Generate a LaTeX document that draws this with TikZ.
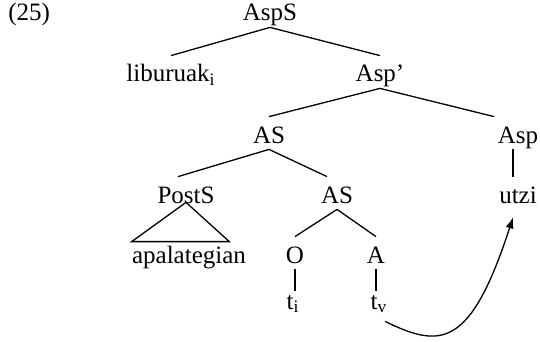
\documentclass[tikz,border=0pt]{standalone}
\usepackage{fontspec}
\setmainfont{Liberation Serif}
\usetikzlibrary{arrows.meta}

\begin{document}
\begin{tikzpicture}[x=0.5pt,y=-0.5pt,
    cat/.style={inner sep=0pt,anchor=base,text height=13pt,text depth=3pt,
      font=\fontsize{12.5}{15}\selectfont},
    branch/.style={line width=0.65pt}]
  \useasboundingbox (0,0) rectangle (540,342);
  % example number
  \node[cat,anchor=base west] (num) at (8,21) {(25)};
  % tree nodes, row by row
  \node[cat] (AspS) at (270,21) {AspS};
  \node[cat] (lib) at (171,82) {liburuak\textsubscript{i}};
  \node[cat] (Aspbar) at (380,82) {Asp'};
  \node[cat] (AS1) at (269,143) {AS};
  \node[cat] (Asp) at (518,143) {Asp};
  \node[cat] (PostS) at (186,203) {PostS};
  \node[cat] (AS2) at (337,203) {AS};
  \node[cat] (utzi) at (518,203) {utzi};
  \node[cat] (apal) at (189,263) {apalategian};
  \node[cat] (O) at (295,263) {O};
  \node[cat] (A) at (376,263) {A};
  \node[cat] (ti) at (293,309) {t\textsubscript{i}};
  \node[cat] (tv) at (379,309) {t\textsubscript{v}};
  % branches
  \draw[branch] (AspS.south) -- (lib.north);
  \draw[branch] (AspS.south) -- (Aspbar.north);
  \draw[branch] (Aspbar.south) -- (AS1.north);
  \draw[branch] (Aspbar.south) -- ([xshift=-12pt]Asp.north);
  \draw[branch] (AS1.south) -- ([xshift=-4pt]PostS.north);
  \draw[branch] (AS1.south) -- ([xshift=-5pt]AS2.north);
  \draw[branch] ([xshift=-2.5pt]Asp.south) -- ([xshift=-2.5pt]utzi.north);
  \draw[branch] ([yshift=3.5pt]PostS.south) -- ([yshift=-2.5pt]apal.north west)
    -- ([xshift=-8.5pt,yshift=-2.5pt]apal.north east) -- cycle;
  \draw[branch] (AS2.south) -- (O.north);
  \draw[branch] (AS2.south) -- (A.north);
  \draw[branch,shorten >=-4pt] (O.south) -- (O.south |- ti.north);
  \draw[branch,shorten >=-4pt] (A.south) -- (A.south |- tv.north);
  % the verb trace moves up to Asp
  \draw[branch,-{Latex[length=5.5pt,width=4pt]}] ([xshift=3pt,yshift=-3pt]tv.south)
    .. controls (440,348) and (470,350) .. ([xshift=-2.5pt,yshift=-4pt]utzi.south);
\end{tikzpicture}
\end{document}
